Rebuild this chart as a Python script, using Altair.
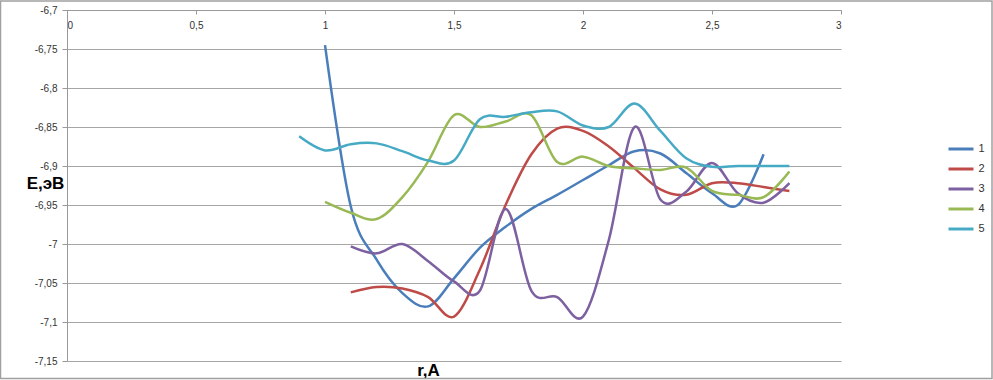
import altair as alt
import pandas as pd

# ---- data ----
names = ["1", "2", "3", "4", "5"]
colors = ["#4A7EBB", "#BE4B48", "#7D60A0", "#98B954", "#46AAC5"]

r1 = [1.0, 1.1, 1.2, 1.3, 1.4, 1.5, 1.6, 1.7, 1.8, 1.9, 2.0, 2.1, 2.2, 2.3, 2.4, 2.5, 2.6, 2.7]
e1 = [-6.745, -6.952, -7.02, -7.063, -7.08, -7.044, -7.005, -6.978, -6.955, -6.937, -6.918,
      -6.899, -6.881, -6.884, -6.909, -6.935, -6.950, -6.885]

r2 = [1.1, 1.2, 1.3, 1.4, 1.5, 1.6, 1.7, 1.8, 1.9, 2.0, 2.1, 2.2, 2.3, 2.4, 2.5, 2.6, 2.7, 2.8]
e2 = [-7.062, -7.055, -7.057, -7.068, -7.093, -7.033, -6.950, -6.885, -6.852, -6.855, -6.875,
      -6.903, -6.930, -6.937, -6.922, -6.922, -6.927, -6.932]

r3 = [1.1, 1.2, 1.3, 1.4, 1.5, 1.6, 1.7, 1.8, 1.9, 2.0, 2.1, 2.2, 2.3, 2.4, 2.5, 2.6, 2.7, 2.8]
e3 = [-7.003, -7.012, -7.000, -7.022, -7.048, -7.060, -6.955, -7.060, -7.068, -7.093, -6.995,
      -6.850, -6.943, -6.933, -6.896, -6.935, -6.947, -6.922]

r4 = [1.0, 1.1, 1.2, 1.3, 1.4, 1.5, 1.6, 1.7, 1.8, 1.9, 2.0, 2.1, 2.2, 2.3, 2.4, 2.5, 2.6, 2.7, 2.8]
e4 = [-6.946, -6.960, -6.968, -6.940, -6.894, -6.835, -6.850, -6.843, -6.835, -6.895, -6.888,
      -6.900, -6.903, -6.905, -6.902, -6.932, -6.937, -6.940, -6.907]

r5 = [0.9, 1.0, 1.1, 1.2, 1.3, 1.4, 1.5, 1.6, 1.7, 1.8, 1.9, 2.0, 2.1, 2.2, 2.3, 2.4, 2.5, 2.6, 2.7, 2.8]
e5 = [-6.862, -6.880, -6.872, -6.871, -6.881, -6.893, -6.893, -6.840, -6.837, -6.831, -6.830,
      -6.848, -6.850, -6.820, -6.855, -6.890, -6.901, -6.900, -6.900, -6.900]

x_ticks = [0, 0.5, 1, 1.5, 2, 2.5, 3]
y_ticks = [-6.7, -6.75, -6.8, -6.85, -6.9, -6.95, -7.0, -7.05, -7.1, -7.15]

rows = []
for name, rs, es in zip(names, [r1, r2, r3, r4, r5], [e1, e2, e3, e4, e5]):
    for r, e in zip(rs, es):
        rows.append({"r": r, "E": e, "s": name})
df = pd.DataFrame(rows)

FONT = "Liberation Sans"
W, H = 774, 351
comma = "replace(toString(datum.value), '.', ',')"

lines = alt.Chart(df).mark_line(interpolate="cardinal", strokeWidth=2.5).encode(
    x=alt.X("r:Q",
            scale=alt.Scale(domain=[0, 3], nice=False, zero=False),
            axis=alt.Axis(orient="bottom", offset=-H, values=x_ticks, labelExpr=comma,
                          grid=False, tickSize=4, labelPadding=6, labelFontSize=10,
                          labelColor="#333333", labelFont=FONT,
                          domainColor="#999999", tickColor="#999999",
                          title="r,A", titleFont=FONT, titleFontSize=17, titleFontWeight="bold",
                          titleColor="#000000", titleX=361, titleY=352,
                          titleAlign="center", titleBaseline="top")),
    y=alt.Y("E:Q",
            scale=alt.Scale(domain=[-7.15, -6.7], nice=False, zero=False),
            axis=alt.Axis(orient="left", values=y_ticks, labelExpr=comma,
                          grid=True, gridColor="#A6A6A6", gridWidth=1,
                          tickSize=5, labelPadding=5, labelFontSize=10,
                          labelColor="#333333", labelFont=FONT,
                          domainColor="#999999", tickColor="#999999",
                          title="E,эВ", titleFont=FONT, titleFontSize=17, titleFontWeight="bold",
                          titleColor="#000000", titleAngle=0, titleX=-22, titleY=173,
                          titleAlign="center", titleBaseline="middle")),
    color=alt.Color("s:N",
                    scale=alt.Scale(domain=names, range=colors),
                    legend=alt.Legend(title=None, orient="none", legendX=887.5, legendY=132.5,
                                      symbolType="M-2.5,0H2.5", symbolSize=100,
                                      symbolStrokeWidth=3, rowPadding=7, padding=0,
                                      labelOffset=11, labelFont=FONT, labelFontSize=11,
                                      labelColor="#333333")),
)

frame = alt.Chart(pd.DataFrame({"k": [0]})).mark_rect(
    fill=None, stroke="#A0A0A0", strokeWidth=1.5
).encode(
    x=alt.value(-66.5), x2=alt.value(925), y=alt.value(-9), y2=alt.value(368.5)
)

chart = alt.layer(lines, frame).properties(
    width=W, height=H,
    autosize=alt.AutoSizeParams(type="none"),
    padding={"left": 67, "top": 10, "right": 152, "bottom": 19},
    background="white",
).configure_view(stroke=None)

chart.save("out.html", embed_options={"renderer": "svg", "actions": False})
